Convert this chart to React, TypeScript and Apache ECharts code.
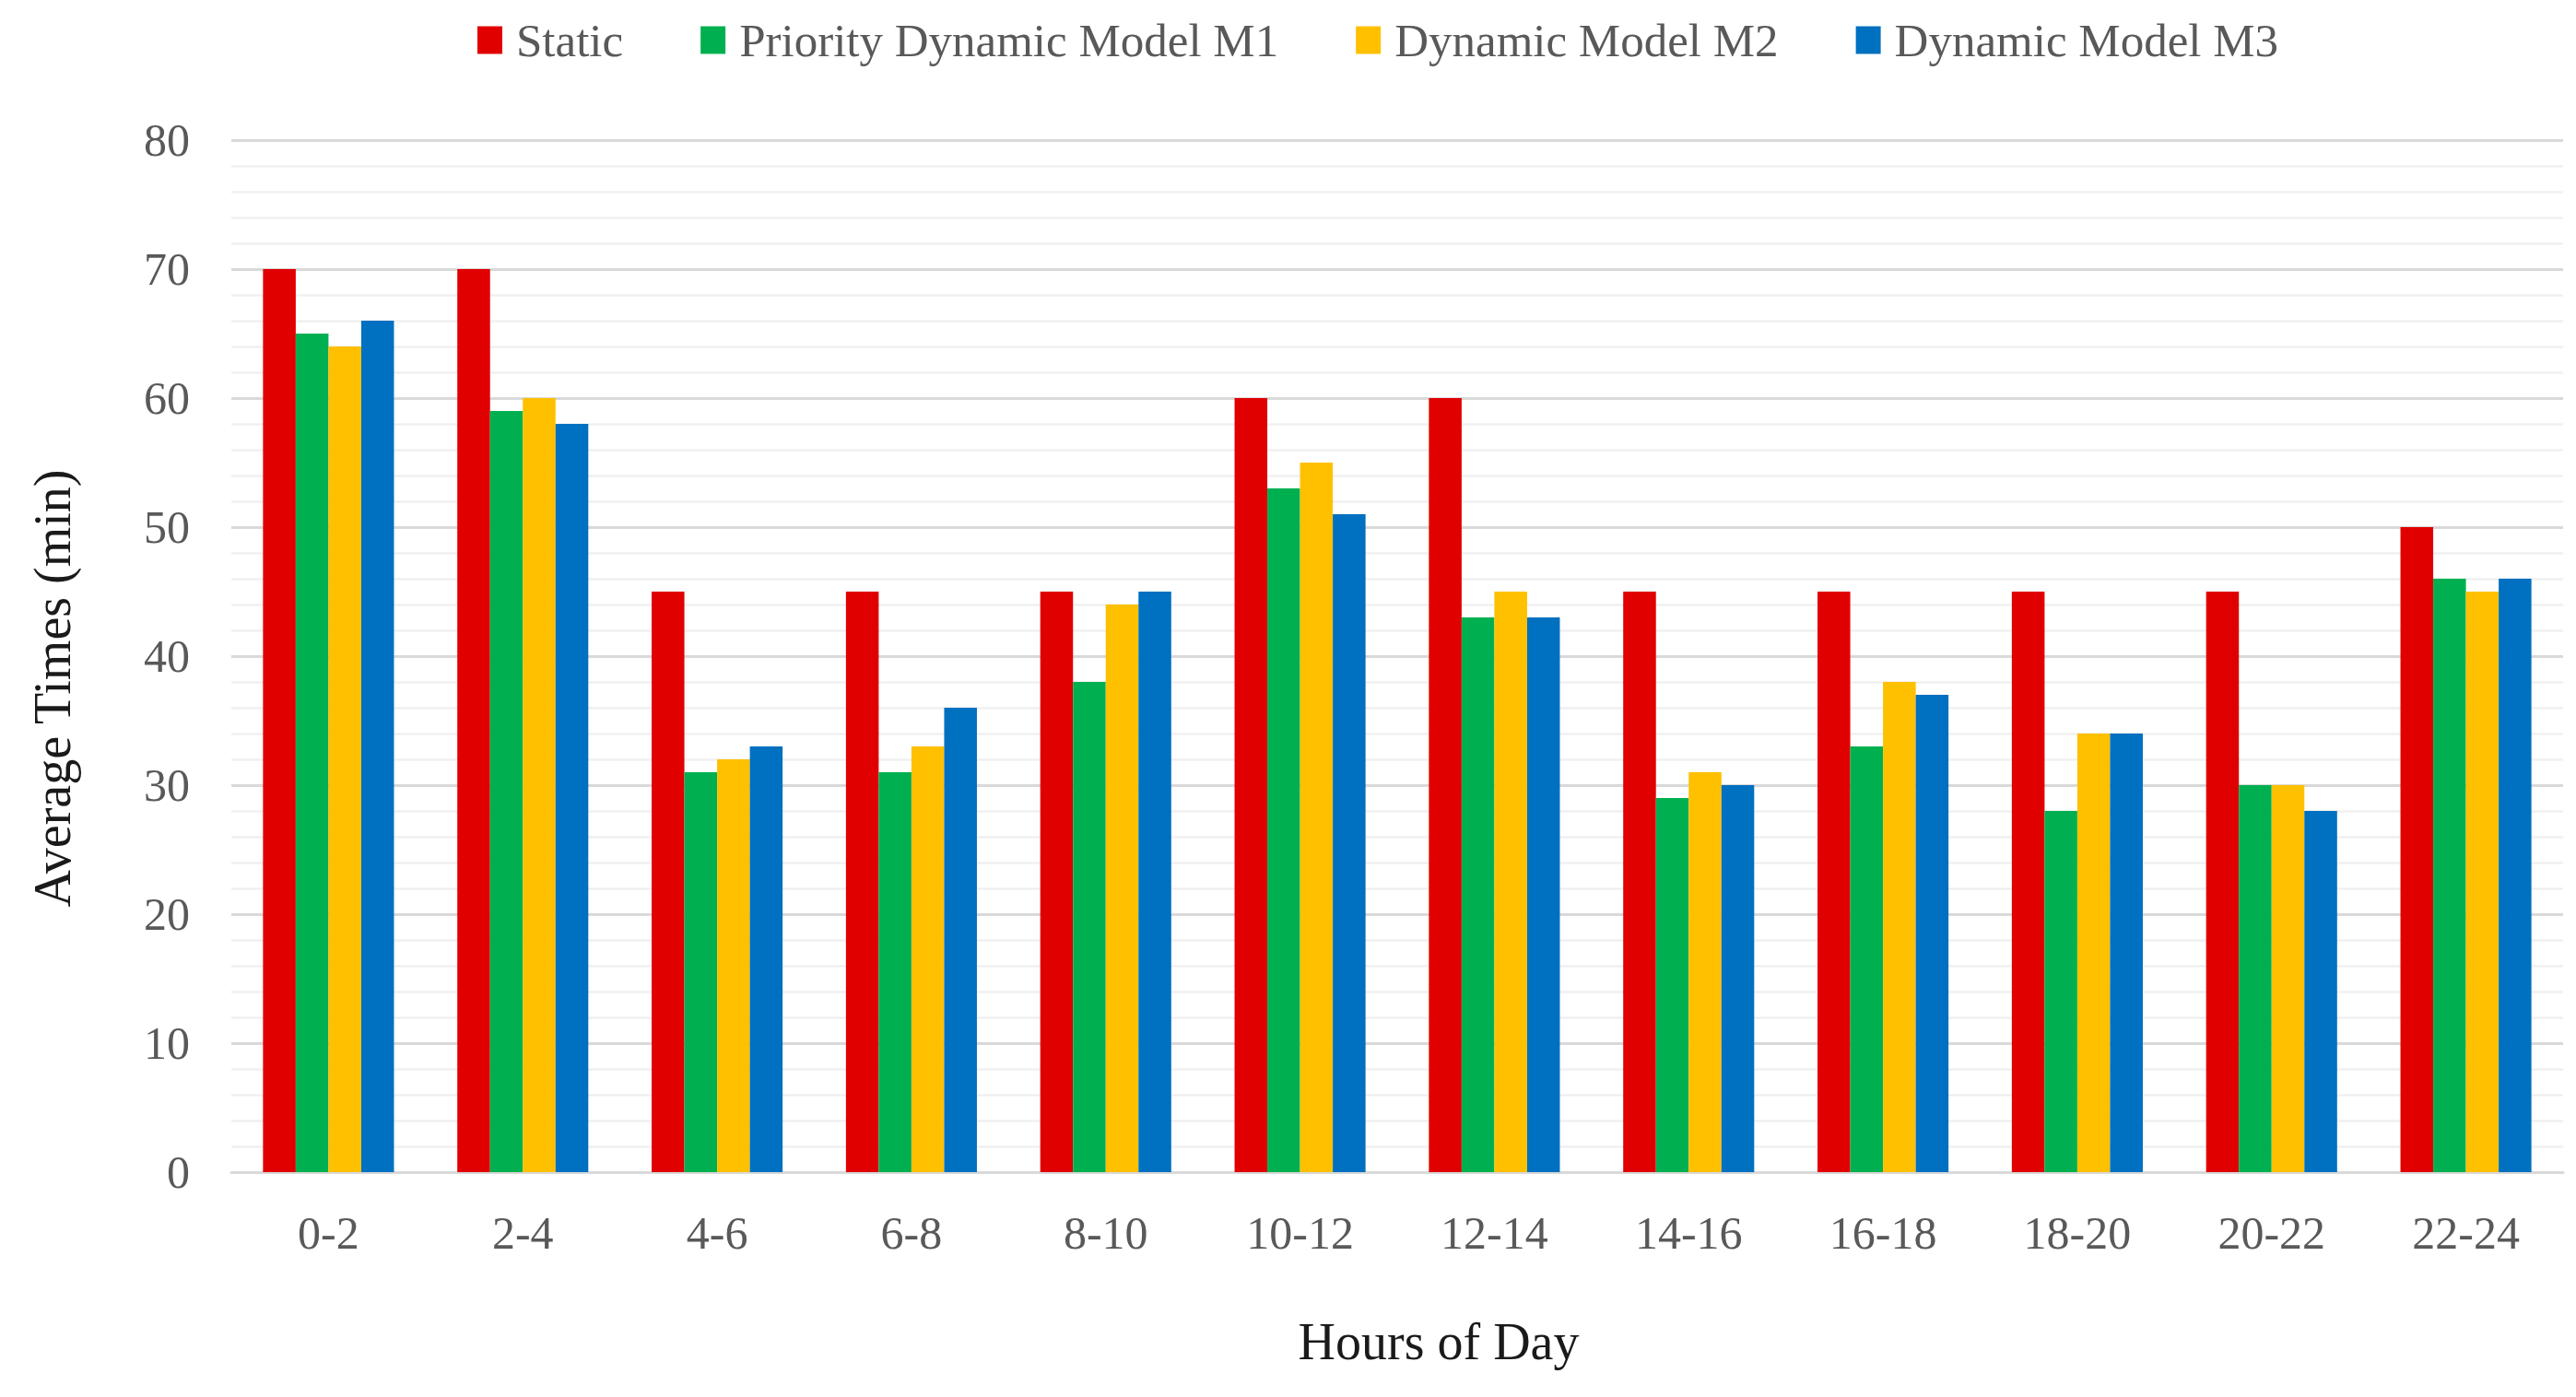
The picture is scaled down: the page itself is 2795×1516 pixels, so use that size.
import React, { useEffect, useRef } from "react";
import * as echarts from "echarts";

const categories = ["0-2", "2-4", "4-6", "6-8", "8-10", "10-12", "12-14", "14-16", "16-18", "18-20", "20-22", "22-24"];
const seriesNames = ["Static", "Priority Dynamic Model M1", "Dynamic Model M2", "Dynamic Model M3"];
const staticValues = [70, 70, 45, 45, 45, 60, 60, 45, 45, 45, 45, 50];
const m1Values = [65, 59, 31, 31, 38, 53, 43, 29, 33, 28, 30, 46];
const m2Values = [64, 60, 32, 33, 44, 55, 45, 31, 38, 34, 30, 45];
const m3Values = [66, 58, 33, 36, 45, 51, 43, 30, 37, 34, 28, 46];
const colors = ["#E00000", "#00B050", "#FFC000", "#0070C0"];
const xTitle = "Hours of Day";
const yTitle = "Average Times (min)";

const FONT = "'Liberation Serif', 'DejaVu Serif', serif";

export default function App() {
  const ref = useRef<HTMLDivElement>(null);
  useEffect(() => {
    if (!ref.current) return;
    const chart = echarts.init(ref.current, undefined, { renderer: "svg" });
    const values = [staticValues, m1Values, m2Values, m3Values];
    chart.setOption({
      animation: false,
      backgroundColor: "#ffffff",
      color: colors,
      legend: {
        left: 513,
        top: 13,
        itemWidth: 27,
        itemHeight: 30,
        itemGap: 84,
        icon: "rect",
        textStyle: { fontFamily: FONT, fontSize: 51, color: "#595959", padding: [0, 0, 0, 10] },
        data: seriesNames,
      },
      grid: { left: 251, right: 14, top: 152, bottom: 244, containLabel: false },
      xAxis: {
        type: "category",
        data: categories,
        axisLine: { show: true, lineStyle: { color: "#d9d9d9", width: 3 } },
        axisTick: { show: false },
        axisLabel: { fontFamily: FONT, fontSize: 50, color: "#595959", margin: 41 },
      },
      yAxis: {
        type: "value",
        min: 0,
        max: 80,
        interval: 10,
        axisLine: { show: false },
        axisTick: { show: false },
        axisLabel: { fontFamily: FONT, fontSize: 50, color: "#595959", margin: 45, padding: [0, 0, 8, 0] },
        splitLine: { show: true, lineStyle: { color: "#d9d9d9", width: 3 } },
        minorTick: { show: false, splitNumber: 5 },
        minorSplitLine: { show: true, lineStyle: { color: "#f0f0f0", width: 2.5 } },
      },
      graphic: [
        {
          type: "text",
          x: 57,
          y: 747,
          rotation: Math.PI / 2,
          style: {
            text: yTitle,
            fontFamily: FONT,
            fontSize: 56,
            fill: "#1a1a1a",
            textAlign: "center",
            textVerticalAlign: "middle",
          },
        },
        {
          type: "text",
          x: 1561,
          y: 1456,
          style: {
            text: xTitle,
            fontFamily: FONT,
            fontSize: 56,
            fill: "#1a1a1a",
            textAlign: "center",
            textVerticalAlign: "middle",
          },
        },
      ],
      series: seriesNames.map((name, i) => ({
        name,
        type: "bar",
        data: values[i],
        barGap: "0%",
        barCategoryGap: "32.6%",
        itemStyle: { color: colors[i] },
      })),
    });
    return () => chart.dispose();
  }, []);
  return (
    <div
      ref={ref}
      style={{ position: "fixed", left: 0, top: 0, width: 2795, height: 1516, background: "#fff" }}
    />
  );
}
